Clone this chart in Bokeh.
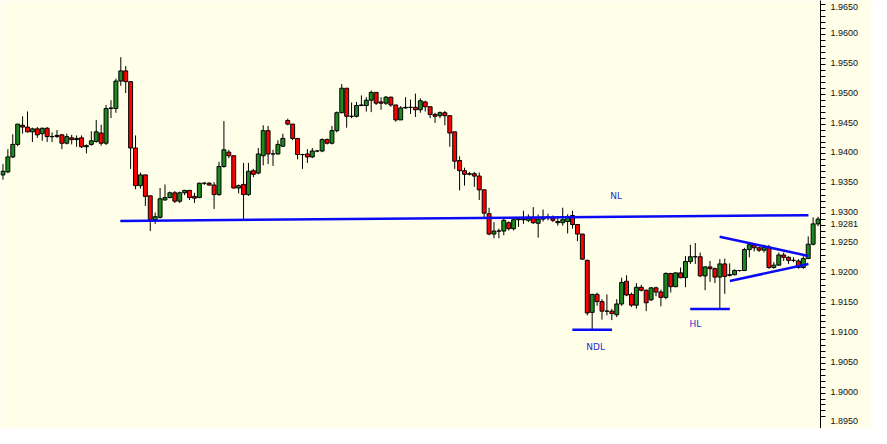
from bokeh.plotting import figure
from bokeh.models import ColumnDataSource, Range1d, FixedTicker
from bokeh.embed import file_html
from bokeh.resources import INLINE
from bokeh.core.properties import value

# ---- OHLC data (one bar per index) ----
opens = [1.9355, 1.9360, 1.9385, 1.9406, 1.9438, 1.9435, 1.9427, 1.9432, 1.9424, 1.9433,
         1.9419, 1.9419, 1.9422, 1.9408, 1.9417, 1.9414, 1.9417, 1.9402, 1.9406, 1.9411,
         1.9425, 1.9408, 1.9466, 1.9466, 1.9512, 1.9529, 1.9511, 1.9400, 1.9337, 1.9355,
         1.9320, 1.9280, 1.9284, 1.9313, 1.9317, 1.9325, 1.9311, 1.9325, 1.9329, 1.9319,
         1.9317, 1.9341, 1.9341, 1.9338, 1.9322, 1.9369, 1.9393, 1.9387, 1.9333, 1.9339,
         1.9322, 1.9362, 1.9358, 1.9387, 1.9429, 1.9390, 1.9390, 1.9403, 1.9446, 1.9440,
         1.9416, 1.9389, 1.9390, 1.9385, 1.9395, 1.9395, 1.9414, 1.9408, 1.9429, 1.9459,
         1.9500, 1.9453, 1.9453, 1.9471, 1.9471, 1.9480, 1.9493, 1.9477, 1.9475, 1.9485,
         1.9472, 1.9447, 1.9467, 1.9468, 1.9468, 1.9464, 1.9477, 1.9469, 1.9456, 1.9454,
         1.9459, 1.9454, 1.9427, 1.9379, 1.9362, 1.9356, 1.9357, 1.9353, 1.9330, 1.9290,
         1.9256, 1.9261, 1.9261, 1.9275, 1.9265, 1.9280, 1.9281, 1.9279, 1.9284, 1.9274,
         1.9281, 1.9284, 1.9283, 1.9275, 1.9275, 1.9277, 1.9287, 1.9272, 1.9256, 1.9212,
         1.9125, 1.9155, 1.9143, 1.9127, 1.9127, 1.9121, 1.9139, 1.9177, 1.9155, 1.9137,
         1.9167, 1.9162, 1.9146, 1.9166, 1.9159, 1.9150, 1.9190, 1.9168, 1.9191, 1.9183,
         1.9210, 1.9218, 1.9218, 1.9186, 1.9201, 1.9198, 1.9184, 1.9206, 1.9187, 1.9188,
         1.9195, 1.9195, 1.9230, 1.9238, 1.9233, 1.9229, 1.9234, 1.9200, 1.9204, 1.9221,
         1.9217, 1.9212, 1.9211, 1.9200, 1.9215, 1.9239, 1.9273]
highs = [1.9373, 1.9398, 1.9423, 1.9440, 1.9453, 1.9461, 1.9434, 1.9435, 1.9434, 1.9435,
         1.9426, 1.9430, 1.9423, 1.9424, 1.9422, 1.9421, 1.9421, 1.9406, 1.9428, 1.9447,
         1.9439, 1.9472, 1.9480, 1.9516, 1.9552, 1.9537, 1.9511, 1.9421, 1.9359, 1.9355,
         1.9320, 1.9292, 1.9333, 1.9339, 1.9327, 1.9328, 1.9327, 1.9330, 1.9330, 1.9325,
         1.9342, 1.9343, 1.9343, 1.9343, 1.9377, 1.9445, 1.9397, 1.9387, 1.9339, 1.9375,
         1.9375, 1.9365, 1.9400, 1.9438, 1.9437, 1.9397, 1.9413, 1.9424, 1.9449, 1.9440,
         1.9416, 1.9390, 1.9398, 1.9400, 1.9396, 1.9416, 1.9416, 1.9437, 1.9461, 1.9507,
         1.9500, 1.9476, 1.9477, 1.9488, 1.9485, 1.9496, 1.9493, 1.9485, 1.9487, 1.9486,
         1.9472, 1.9470, 1.9485, 1.9481, 1.9491, 1.9483, 1.9479, 1.9469, 1.9459, 1.9461,
         1.9462, 1.9454, 1.9427, 1.9386, 1.9367, 1.9360, 1.9360, 1.9359, 1.9330, 1.9300,
         1.9276, 1.9265, 1.9281, 1.9277, 1.9284, 1.9284, 1.9295, 1.9289, 1.9301, 1.9289,
         1.9297, 1.9290, 1.9287, 1.9284, 1.9300, 1.9289, 1.9295, 1.9272, 1.9256, 1.9213,
         1.9156, 1.9158, 1.9147, 1.9155, 1.9131, 1.9147, 1.9183, 1.9187, 1.9158, 1.9174,
         1.9171, 1.9163, 1.9167, 1.9168, 1.9163, 1.9192, 1.9191, 1.9192, 1.9200, 1.9219,
         1.9238, 1.9241, 1.9225, 1.9202, 1.9211, 1.9200, 1.9214, 1.9215, 1.9207, 1.9197,
         1.9196, 1.9233, 1.9240, 1.9241, 1.9235, 1.9238, 1.9238, 1.9209, 1.9225, 1.9225,
         1.9219, 1.9217, 1.9214, 1.9219, 1.9252, 1.9284, 1.9285]
lows = [1.9347, 1.9358, 1.9383, 1.9403, 1.9424, 1.9426, 1.9410, 1.9417, 1.9412, 1.9410,
        1.9410, 1.9417, 1.9398, 1.9406, 1.9406, 1.9402, 1.9400, 1.9391, 1.9404, 1.9409,
        1.9404, 1.9405, 1.9450, 1.9459, 1.9504, 1.9492, 1.9365, 1.9331, 1.9332, 1.9303,
        1.9261, 1.9273, 1.9282, 1.9312, 1.9316, 1.9308, 1.9308, 1.9321, 1.9313, 1.9308,
        1.9316, 1.9338, 1.9337, 1.9298, 1.9320, 1.9367, 1.9383, 1.9332, 1.9324, 1.9280,
        1.9320, 1.9351, 1.9356, 1.9371, 1.9373, 1.9370, 1.9389, 1.9402, 1.9438, 1.9413,
        1.9381, 1.9365, 1.9375, 1.9383, 1.9393, 1.9393, 1.9406, 1.9406, 1.9426, 1.9458,
        1.9434, 1.9450, 1.9451, 1.9470, 1.9461, 1.9460, 1.9472, 1.9464, 1.9472, 1.9469,
        1.9444, 1.9447, 1.9466, 1.9457, 1.9452, 1.9459, 1.9461, 1.9450, 1.9442, 1.9450,
        1.9438, 1.9402, 1.9365, 1.9329, 1.9337, 1.9354, 1.9335, 1.9313, 1.9284, 1.9254,
        1.9249, 1.9249, 1.9254, 1.9262, 1.9262, 1.9268, 1.9273, 1.9276, 1.9273, 1.9250,
        1.9277, 1.9279, 1.9276, 1.9270, 1.9270, 1.9257, 1.9265, 1.9244, 1.9213, 1.9120,
        1.9096, 1.9136, 1.9113, 1.9120, 1.9112, 1.9117, 1.9136, 1.9152, 1.9134, 1.9131,
        1.9160, 1.9127, 1.9144, 1.9152, 1.9135, 1.9147, 1.9158, 1.9167, 1.9182, 1.9167,
        1.9206, 1.9206, 1.9184, 1.9162, 1.9176, 1.9174, 1.9132, 1.9156, 1.9185, 1.9187,
        1.9193, 1.9194, 1.9217, 1.9227, 1.9226, 1.9225, 1.9198, 1.9198, 1.9203, 1.9211,
        1.9206, 1.9209, 1.9198, 1.9198, 1.9214, 1.9237, 1.9269]
closes = [1.9361, 1.9385, 1.9406, 1.9440, 1.9435, 1.9427, 1.9432, 1.9422, 1.9433, 1.9419,
          1.9419, 1.9421, 1.9408, 1.9419, 1.9414, 1.9416, 1.9402, 1.9404, 1.9412, 1.9427,
          1.9408, 1.9466, 1.9467, 1.9512, 1.9529, 1.9511, 1.9400, 1.9337, 1.9355, 1.9319,
          1.9280, 1.9285, 1.9315, 1.9317, 1.9325, 1.9311, 1.9325, 1.9329, 1.9317, 1.9316,
          1.9341, 1.9341, 1.9338, 1.9322, 1.9369, 1.9397, 1.9387, 1.9333, 1.9337, 1.9322,
          1.9361, 1.9356, 1.9390, 1.9429, 1.9390, 1.9390, 1.9406, 1.9416, 1.9440, 1.9416,
          1.9389, 1.9389, 1.9385, 1.9395, 1.9395, 1.9414, 1.9408, 1.9429, 1.9459, 1.9500,
          1.9453, 1.9453, 1.9471, 1.9472, 1.9480, 1.9493, 1.9475, 1.9475, 1.9485, 1.9472,
          1.9447, 1.9467, 1.9468, 1.9468, 1.9464, 1.9479, 1.9469, 1.9456, 1.9453, 1.9459,
          1.9454, 1.9425, 1.9378, 1.9362, 1.9356, 1.9357, 1.9353, 1.9330, 1.9291, 1.9256,
          1.9261, 1.9261, 1.9279, 1.9265, 1.9280, 1.9281, 1.9280, 1.9284, 1.9275, 1.9281,
          1.9284, 1.9284, 1.9279, 1.9277, 1.9280, 1.9284, 1.9272, 1.9256, 1.9214, 1.9124,
          1.9155, 1.9143, 1.9127, 1.9127, 1.9123, 1.9139, 1.9175, 1.9154, 1.9137, 1.9167,
          1.9162, 1.9141, 1.9166, 1.9159, 1.9150, 1.9190, 1.9168, 1.9191, 1.9183, 1.9210,
          1.9218, 1.9218, 1.9186, 1.9201, 1.9198, 1.9184, 1.9206, 1.9185, 1.9188, 1.9195,
          1.9195, 1.9230, 1.9238, 1.9233, 1.9229, 1.9234, 1.9200, 1.9204, 1.9221, 1.9217,
          1.9212, 1.9212, 1.9200, 1.9215, 1.9239, 1.9273, 1.9281]

# ---- hand-drawn analysis lines: (bar index, price) end points ----
line_names = ["NL", "NDL", "HL", "TRI_UP", "TRI_LOW"]
line_x0 = [23.9, 115.96, 139.96, 145.96, 148.04]
line_y0 = [1.92779, 1.90957, 1.91307, 1.92516, 1.91774]
line_x1 = [164.04, 124.04, 148.04, 164.04, 164.04]
line_y1 = [1.92876, 1.90957, 1.91307, 1.92194, 1.92060]

label_texts = ["NL", "NDL", "HL"]
label_x = [124.9, 120.7, 141.0]
label_y = [1.93202, 1.90669, 1.91056]

# ---- price axis ----
tick_labels = ["1.8950", "1.9000", "1.9050", "1.9100", "1.9150", "1.9200", "1.9250",
               "1.9300", "1.9350", "1.9400", "1.9450", "1.9500", "1.9550", "1.9600", "1.9650"]
last_price_label = "1.9281"

Y_START, Y_END = 1.893065, 1.964677
X_START, X_END = -0.5, 166.5
FRAME_W, FRAME_H = 820, 428

BG = "#FEFEE9"
BULL = "#1E8A1E"
BEAR = "#FF0000"
BLUE = "#0A0AF5"

n = len(opens)
xs = list(range(n))
tops = [max(o, c) for o, c in zip(opens, closes)]
bottoms = [min(o, c) for o, c in zip(opens, closes)]
colors = [BULL if c >= o else BEAR for o, c in zip(opens, closes)]

src = ColumnDataSource(dict(x=xs, high=highs, low=lows, top=tops, bottom=bottoms, color=colors))

p = figure(frame_width=FRAME_W, frame_height=FRAME_H,
           x_range=Range1d(X_START, X_END), y_range=Range1d(Y_START, Y_END),
           y_axis_location="right", x_axis_location=None,
           toolbar_location=None, output_backend="svg",
           min_border_left=0, min_border_top=0, min_border_bottom=0, min_border_right=51,
           background_fill_color=BG, border_fill_color=BG, outline_line_color=None)
p.xgrid.visible = False
p.ygrid.visible = False

p.segment(x0="x", y0="low", x1="x", y1="high", source=src, line_color="black", line_width=1)
p.vbar(x="x", width=0.8, top="top", bottom="bottom", source=src,
       fill_color="color", line_color="black", line_width=1)

lsrc = ColumnDataSource(dict(x0=line_x0, y0=line_y0, x1=line_x1, y1=line_y1))
p.segment(x0="x0", y0="y0", x1="x1", y1="y1", source=lsrc, line_color=BLUE, line_width=2.5)

tsrc = ColumnDataSource(dict(x=label_x, y=label_y, t=label_texts))
p.text(x="x", y="y", text="t", source=tsrc, text_font=value("DejaVu Sans"),
       text_font_size="9px", text_color="#2B2BD0", text_align="center", text_baseline="middle")

# Axis: minor ticks every 0.0010 at the true prices; the price texts are placed
# ~4.5 px below each level (as the terminal draws them), kept fully inside the frame.
label_vals = [float(s) for s in tick_labels] + [closes[-1]]
label_strs = tick_labels + [last_price_label]
px_per_unit = FRAME_H / (Y_END - Y_START)
shift = 4.5 / px_per_unit
top_limit = Y_END - 6.0 / px_per_unit
label_pos = [round(min(v - shift, top_limit), 6) for v in label_vals]
minor = [round(1.8950 + 0.001 * i, 4) for i in range(0, 71)]
ax = p.yaxis[0]
ax.ticker = FixedTicker(ticks=label_pos, minor_ticks=minor)
ax.major_label_overrides = {lp: s for lp, s in zip(label_pos, label_strs)}
ax.axis_line_color = "black"
ax.major_tick_line_color = None
ax.minor_tick_line_color = "black"
ax.major_tick_out = 5
ax.major_tick_in = 0
ax.minor_tick_out = 5
ax.minor_tick_in = 0
ax.major_label_standoff = 5
ax.major_label_text_font = "Liberation Sans"
ax.major_label_text_font_size = "9px"
ax.major_label_text_color = "#101010"

open("out.html", "w").write(file_html(p, INLINE))
